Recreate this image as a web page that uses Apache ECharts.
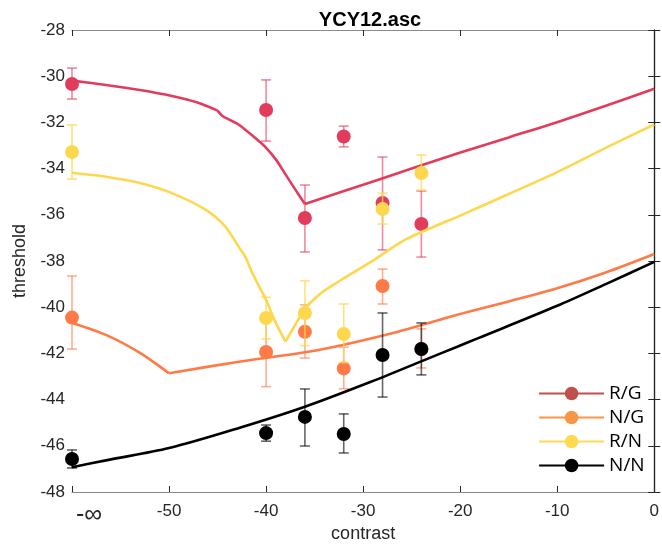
<!DOCTYPE html>
<html>
<head>
<meta charset="utf-8">
<script src="https://cdn.jsdelivr.net/npm/echarts@6/dist/echarts.min.js"></script>
<style>html,body{margin:0;padding:0;background:#fff}#c{width:662px;height:550px}</style>
</head>
<body>
<div id="c"></div>
<script>
// ---- data ----
const names = ['R/G', 'N/G', 'R/N', 'N/N'];
const xTicks = [-50, -40, -30, -20, -10, 0];
const yTicks = [-48, -46, -44, -42, -40, -38, -36, -34, -32, -30, -28];
const negInfLabel = '-\u221e';

// measured points: [contrast, threshold, low, high]  (-60 plotted as -inf)
const ptsRG = [[-60, -30.34, -30.99, -29.65], [-40, -31.46, -32.81, -30.16], [-36, -36.14, -37.61, -34.71],
               [-32, -32.61, -33.06, -32.16], [-28, -35.49, -37.52, -33.50], [-24, -36.40, -37.83, -34.97]];
const ptsNG = [[-60, -40.45, -41.81, -38.65], [-40, -41.94, -43.44, -40.44], [-36, -41.06, -42.20, -39.90],
               [-32, -42.65, -43.53, -41.73], [-28, -39.08, -39.86, -38.35], [-24, -41.81, -42.63, -40.94]];
const ptsRN = [[-60, -33.28, -34.45, -32.11], [-40, -40.47, -41.37, -39.57], [-36, -40.25, -41.66, -38.86],
               [-32, -41.16, -42.40, -39.86], [-28, -35.75, -36.40, -35.06], [-24, -34.19, -34.93, -33.41]];
const ptsNN = [[-60, -46.57, -46.96, -46.18], [-40, -45.45, -45.80, -45.10], [-36, -44.75, -46.01, -43.54],
               [-32, -45.49, -46.31, -44.62], [-28, -42.07, -43.89, -40.25], [-24, -41.81, -42.93, -40.68]];

// model curves, split at their corners (each piece drawn smooth)
const curveRG = [
  [[-60, -30.19], [-56.5, -30.38], [-53, -30.6], [-49.7, -30.86], [-47, -31.15], [-45, -31.49]],
  [[-45, -31.49], [-44.5, -31.72], [-43.7, -31.9], [-42.8, -32.1], [-41, -32.72], [-40, -33.1], [-39, -33.6],
   [-38, -34.25], [-37, -34.9], [-36, -35.53]],
  [[-36, -35.53], [-30, -34.7], [-25, -34.0], [-20.3, -33.35], [-15, -32.65], [-10, -31.99], [-5, -31.28], [0, -30.54]]
];
const curveNG = [
  [[-60, -40.68], [-56.5, -41.2], [-53, -41.98], [-50, -42.86]],
  [[-50, -42.86], [-42.8, -42.36], [-34.6, -41.85], [-26.4, -41.06], [-20.3, -40.33], [-15, -39.75],
   [-10, -39.18], [-5, -38.5], [0, -37.7]]
];
const curveRN = [
  [[-60, -34.18], [-56.5, -34.35], [-53, -34.62], [-49.7, -35.06], [-46.2, -35.79], [-44.2, -36.51],
   [-42.8, -37.4], [-42.1, -37.85], [-41.5, -38.45], [-40, -39.69], [-39, -40.68], [-38, -41.49]],
  [[-38, -41.49], [-36, -40.03]],
  [[-36, -40.03], [-34.3, -39.38], [-32.6, -38.91], [-29.2, -38.04], [-25.7, -37.09],
   [-22.3, -36.44], [-20.3, -36.09], [-15, -35.1], [-10, -34.15], [-5, -33.1], [0, -32.09]]
];
const curveNN = [
  [[-60, -46.93], [-56.5, -46.63], [-50, -46.1], [-42.8, -45.23], [-36, -44.31], [-29.2, -43.23],
   [-23.7, -42.29], [-20.3, -41.71], [-18.2, -41.35], [-10, -39.94], [-5, -39.0], [0, -38.04]]
];

const points = [ptsRG, ptsNG, ptsRN, ptsNN];
const curves = [curveRG, curveNG, curveRN, curveNN];
const colors = ['#e23c5c', '#ff7a47', '#fdd84e', '#000000'];
const errColors = ['rgba(226,60,92,0.6)', 'rgba(255,122,71,0.6)', 'rgba(253,216,78,0.75)', 'rgba(0,0,0,0.6)'];
const legendColors = ['#c0504d', '#f79646', '#ffd94f', '#000000'];

const FONT = '"Liberation Sans", Arial, sans-serif';
const series = [];
names.forEach((n, i) => {
  curves[i].forEach(seg => {
    series.push({
      name: n, type: 'line', data: seg, showSymbol: false, symbol: 'circle', symbolSize: 13,
      lineStyle: { color: colors[i], width: 2.6 }, itemStyle: { color: colors[i] },
      smooth: 0.3, silent: true, z: 2 + i * 3, animation: false
    });
  });
  series.push({
    name: n + '_err', type: 'custom', data: points[i].map(p => [p[0], p[2], p[3]]),
    encode: { x: 0, y: [1, 2] }, z: 3 + i * 3, animation: false, silent: true,
    renderItem: function (params, api) {
      const x = api.value(0);
      const a = api.coord([x, api.value(2)]);
      const b = api.coord([x, api.value(1)]);
      const w = 5;
      const st = { stroke: errColors[i], lineWidth: 1.6 };
      return { type: 'group', children: [
        { type: 'line', shape: { x1: a[0], y1: a[1], x2: b[0], y2: b[1] }, style: st },
        { type: 'line', shape: { x1: a[0] - w, y1: a[1], x2: a[0] + w, y2: a[1] }, style: st },
        { type: 'line', shape: { x1: b[0] - w, y1: b[1], x2: b[0] + w, y2: b[1] }, style: st }
      ] };
    }
  });
  series.push({
    name: n + '_pts', type: 'scatter', data: points[i].map(p => [p[0], p[1]]),
    symbol: 'circle', symbolSize: 14, itemStyle: { color: colors[i], opacity: 1 },
    z: 4 + i * 3, animation: false, silent: true, clip: false
  });
});

const axisCommon = {
  axisLine: { show: true, lineStyle: { color: '#262626', width: 1.2 } },
  axisTick: { show: true, inside: true, length: 6, lineStyle: { color: '#262626', width: 1 } },
  splitLine: { show: false }
};

const option = {
  animation: false,
  backgroundColor: '#fff',
  title: {
    text: 'YCY12.asc', left: 365, top: 5, textAlign: 'center',
    textStyle: { fontFamily: FONT, fontSize: 20, fontWeight: 'bold', color: '#000' }
  },
  grid: { left: 72, right: 4, top: 30, bottom: 58 },
  legend: {
    orient: 'vertical', left: 533, top: 379, itemWidth: 65, itemHeight: 17, itemGap: 5,
    data: names.map((n, i) => ({
      name: n,
      itemStyle: { color: legendColors[i] },
      lineStyle: { color: legendColors[i], width: 2.2 }
    })),
    textStyle: { fontFamily: '"Open Sans", sans-serif', fontSize: 19, color: '#000', padding: [0, 0, 0, 0] },
    selectedMode: false
  },
  xAxis: [
    Object.assign({}, axisCommon, {
      type: 'value', min: -60, max: 0, interval: 10, position: 'bottom',
      axisLine: { show: true, lineStyle: { color: '#8a8a8a', width: 1.2 } },
      axisLabel: { fontFamily: FONT, fontSize: 17, color: '#262626', margin: 11,
        formatter: v => (xTicks.indexOf(v) >= 0 ? String(v) : '') },
      name: 'contrast', nameLocation: 'middle', nameGap: 28,
      nameTextStyle: { fontFamily: FONT, fontSize: 18, color: '#262626' }
    }),
    Object.assign({}, axisCommon, {
      type: 'value', min: -60, max: 0, interval: 10, position: 'top',
      axisLine: { show: true, lineStyle: { color: '#8a8a8a', width: 1.2 } },
      axisLabel: { show: false }
    })
  ],
  yAxis: [
    Object.assign({}, axisCommon, {
      type: 'value', min: -48, max: -28, interval: 2, position: 'left',
      axisLabel: { fontFamily: FONT, fontSize: 17, color: '#262626', margin: 7,
        formatter: v => (yTicks.indexOf(v) >= 0 ? String(v) : '') },
      name: 'threshold', nameLocation: 'middle', nameGap: 42, nameRotate: 90,
      nameTextStyle: { fontFamily: FONT, fontSize: 18, color: '#262626' }
    }),
    Object.assign({}, axisCommon, {
      type: 'value', min: -48, max: -28, interval: 2, position: 'right',
      axisLabel: { show: false }
    })
  ],
  graphic: [{
    type: 'text', left: 76, top: 503, silent: true,
    style: { text: negInfLabel, fontFamily: FONT, fontSize: 25, fill: '#262626' }
  }],
  series: series
};

const chart = echarts.init(document.getElementById('c'), null, { renderer: 'canvas' });
chart.setOption(option);
</script>
</body>
</html>
